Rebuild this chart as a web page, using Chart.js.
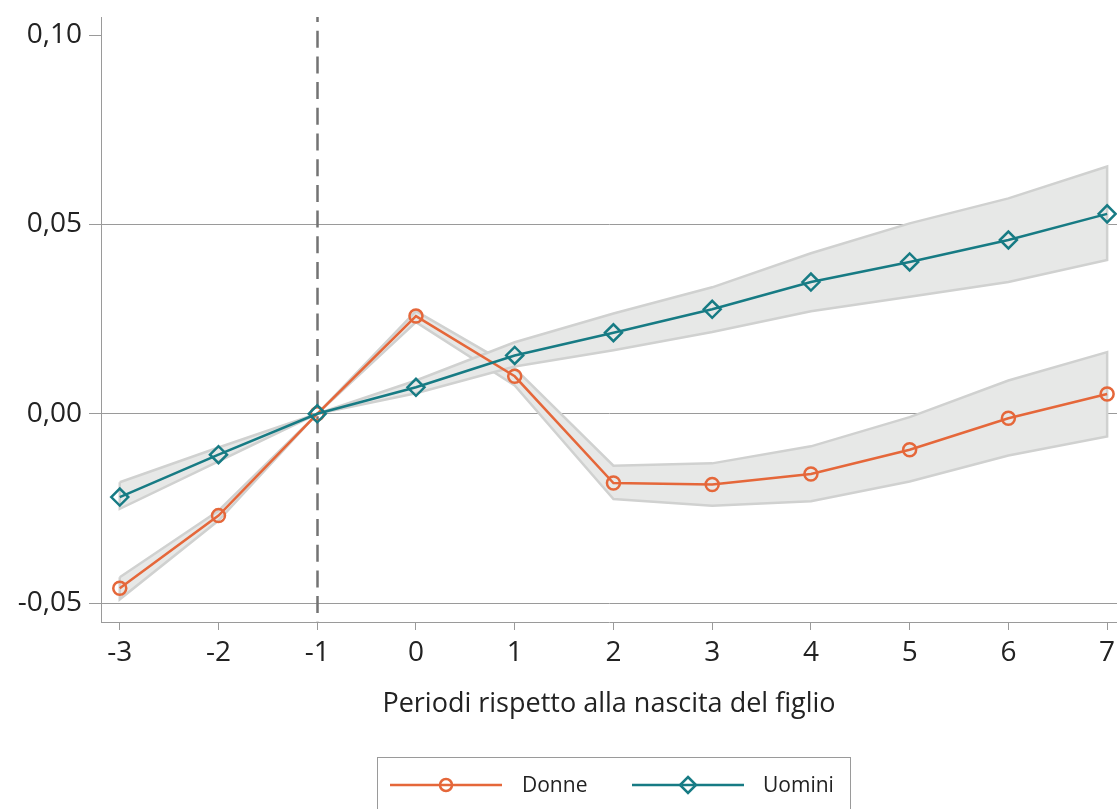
<!DOCTYPE html>
<html><head><meta charset="utf-8">
<script src="https://cdn.jsdelivr.net/npm/chart.js@4/dist/chart.umd.min.js"></script>
<style>html,body{margin:0;padding:0;background:#fff}#wrap{width:1117px;height:809px;position:relative}</style>
</head><body><div id="wrap"><canvas id="c" width="1117" height="809"></canvas></div>
<script>
const periods = [-3,-2,-1,0,1,2,3,4,5,6,7];
const donne      = [-0.0461,-0.0269,0,0.0258,0.0099,-0.0183,-0.0187,-0.0159,-0.0095,-0.0012,0.0052];
const donneHigh  = [-0.0432,-0.0256,0,0.0271,0.0120,-0.0137,-0.0131,-0.0086,-0.0009,0.0088,0.0163];
const donneLow   = [-0.0490,-0.0282,0,0.0242,0.0075,-0.0225,-0.0243,-0.0231,-0.0179,-0.0110,-0.0060];
const uomini     = [-0.0220,-0.0108,0,0.0070,0.0154,0.0214,0.0276,0.0348,0.0401,0.0459,0.0528];
const uominiHigh = [-0.0181,-0.0089,0,0.0088,0.0189,0.0265,0.0334,0.0424,0.0503,0.0569,0.0653];
const uominiLow  = [-0.0251,-0.0126,0,0.0054,0.0125,0.0168,0.0216,0.0271,0.0309,0.0348,0.0406];
const yTicks = [-0.05,0,0.05,0.10];
const xTitle = 'Periodi rispetto alla nascita del figlio';
const seriesNames = ['Donne','Uomini'];
const refPeriod = -1;

const ORANGE = '#E5673A', TEAL = '#177B84', BAND = '#E7E8E7', BANDLINE = '#D0D1D0', GRID = '#9A9A9A';
const FONT = "'Open Sans', 'Noto Sans', sans-serif";
const pts = arr => arr.map((v,i)=>({x:periods[i], y:v}));
// closed polygon: along upper bound, back along lower bound
const bandPts = (hi, lo) => {
  const up = pts(hi), dn = pts(lo).reverse();
  return up.concat(dn, [up[0]]);
};
const bandStyle = {borderColor:BANDLINE, borderWidth:2.5, backgroundColor:BAND, pointRadius:0, order:10, tension:0, fill:'shape', borderJoinStyle:'miter'};

const refLine = {
  id:'refLine',
  beforeDatasetsDraw(chart){
    const {ctx, chartArea, scales} = chart;
    const x = Math.round(scales.x.getPixelForValue(refPeriod)) + 0.5;
    ctx.save();
    ctx.strokeStyle = '#737373'; ctx.lineWidth = 2.5; ctx.setLineDash([17,8.7]);
    ctx.lineDashOffset = 12;
    ctx.beginPath(); ctx.moveTo(x, chartArea.top); ctx.lineTo(x, chartArea.bottom); ctx.stroke();
    ctx.restore();
  }
};

const legendBox = {
  id:'legendBox',
  afterDraw(chart){
    const {ctx} = chart;
    ctx.save();
    ctx.strokeStyle = GRID; ctx.lineWidth = 1;
    ctx.strokeRect(377.5, 757.5, 473, 60);
    const y = 785;
    const items = [{c:ORANGE, s:'circle', x0:390, name:seriesNames[0], tx:522},
                   {c:TEAL, s:'diamond', x0:632, name:seriesNames[1], tx:763}];
    items.forEach(it=>{
      ctx.strokeStyle = it.c; ctx.lineWidth = 2.5; ctx.setLineDash([]);
      ctx.beginPath(); ctx.moveTo(it.x0, y); ctx.lineTo(it.x0+112, y); ctx.stroke();
      const cx = it.x0 + 56;
      ctx.beginPath();
      if (it.s === 'circle') { ctx.arc(cx, y, 6, 0, Math.PI*2); }
      else { const r = 8; ctx.moveTo(cx, y-r); ctx.lineTo(cx+r, y); ctx.lineTo(cx, y+r); ctx.lineTo(cx-r, y); ctx.closePath(); }
      ctx.fillStyle = '#fff'; ctx.fill(); ctx.stroke();
      ctx.beginPath(); ctx.moveTo(cx-6,y); ctx.lineTo(cx+6,y); ctx.stroke();
      ctx.fillStyle = '#222'; ctx.font = "21px " + FONT; ctx.textBaseline = 'middle'; ctx.textAlign = 'left';
      ctx.fillText(it.name, it.tx, y+1);
    });
    ctx.restore();
  }
};

new Chart(document.getElementById('c'), {
  type:'line',
  data:{datasets:[
    {label:seriesNames[1], data:pts(uomini), borderColor:TEAL, borderWidth:2.5, pointStyle:'rectRot', pointRadius:8.5, pointBorderWidth:2.5, pointBackgroundColor:'rgba(0,0,0,0)', pointBorderColor:TEAL, order:0, tension:0, fill:false},
    {label:seriesNames[0], data:pts(donne), borderColor:ORANGE, borderWidth:2.5, pointStyle:'circle', pointRadius:6.5, pointBorderWidth:2.5, pointBackgroundColor:'rgba(0,0,0,0)', pointBorderColor:ORANGE, order:0, tension:0, fill:false},
    Object.assign({label:'Uomini IC', data:bandPts(uominiHigh, uominiLow)}, bandStyle),
    Object.assign({label:'Donne IC', data:bandPts(donneHigh, donneLow)}, bandStyle)
  ]},
  options:{
    responsive:false, animation:false, devicePixelRatio:1,
    layout:{autoPadding:false, padding:{top:17, left:0, right:0, bottom:87}},
    plugins:{legend:{display:false}, tooltip:{enabled:false}},
    scales:{
      x:{type:'linear', min:-3.19, max:7.1,
        afterBuildTicks(s){ s.ticks = periods.map(v=>({value:v})); },
        afterFit(s){ s.height = 100; s.paddingLeft = 0; s.paddingRight = 0; },
        grid:{drawOnChartArea:false, drawTicks:true, tickLength:8, color:GRID, lineWidth:1},
        border:{display:true, color:GRID, width:1},
        ticks:{autoSkip:false, maxRotation:0, padding:6, color:'#222', font:{family:FONT, size:28}, callback:v=>String(v)},
        title:{display:true, text:xTitle, color:'#222', font:{family:FONT, size:27}, padding:{top:0,bottom:1}}
      },
      y:{type:'linear', min:-0.0550, max:0.1048,
        afterBuildTicks(s){ s.ticks = yTicks.map(v=>({value:v})); },
        afterFit(s){ s.width = 101; s.paddingTop = 0; s.paddingBottom = 0; },
        grid:{drawOnChartArea:true, drawTicks:true, tickLength:12,
          color:c => (c.tick && c.tick.value === 0.10) ? 'rgba(0,0,0,0)' : GRID, tickColor:GRID, lineWidth:1},
        border:{display:true, color:GRID, width:1},
        ticks:{padding:7, color:'#222', font:{family:FONT, size:28}, callback:v=>v.toFixed(2).replace('.',',')}
      }
    }
  },
  plugins:[refLine, legendBox]
});
</script></body></html>
